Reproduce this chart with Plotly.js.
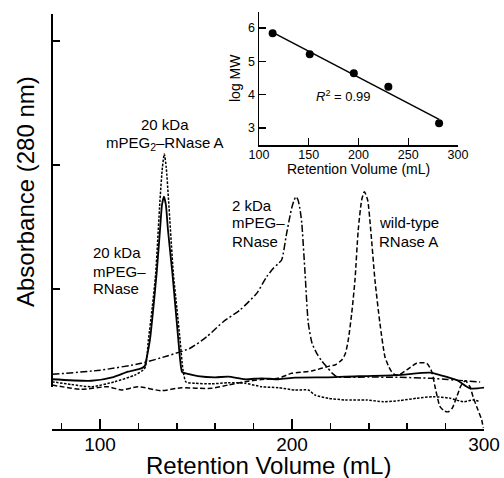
<!DOCTYPE html>
<html>
<head>
<meta charset="utf-8">
<script src="https://cdn.plot.ly/plotly-3.0.1.min.js"></script>
<style>html,body{margin:0;padding:0;background:#fff;}#chart{width:504px;height:478px;}</style>
</head>
<body>
<div id="chart"></div>
<script>
// ---------- main chromatogram data (retention volume mL, absorbance a.u.) ----------
const solidX = [75, 95.5, 107, 114.6, 121.5, 123.4, 124.1, 126.0, 127.8, 129.5, 131.25, 132.3, 133.3, 134.3, 135.4, 137.7, 139.3, 140.8, 141.8, 142.8, 145.8, 151.0, 159.9, 166.8, 175.5, 184.2, 192.9, 201.6, 218.9, 227.6, 254.5, 271.9, 277.1, 285.8, 292.7, 300];
const solidY = [0.272, 0.260, 0.29, 0.333, 0.360, 0.38, 0.427, 0.589, 0.85, 1.127, 1.476, 1.68, 1.744, 1.68, 1.476, 1.127, 0.85, 0.589, 0.42, 0.33, 0.315, 0.298, 0.288, 0.293, 0.272, 0.280, 0.272, 0.285, 0.288, 0.293, 0.306, 0.325, 0.306, 0.266, 0.199, 0.204];

const dotX = [75, 85, 95.5, 107.7, 118.1, 123.3, 125.2, 127.2, 129.0, 131.25, 132.5, 133.5, 134.5, 135.7, 138.2, 140, 141.7, 143.2, 144.8, 149.5, 158, 166.8, 175.5, 184.2, 192.9, 201.6, 208.5, 212, 218.9, 227.6, 238.9, 247.6, 256, 264.9, 273.6, 282.3, 289.2, 294.4, 297.9];
const dotY = [0.252, 0.23, 0.212, 0.252, 0.306, 0.36, 0.589, 0.85, 1.127, 1.718, 1.98, 2.089, 1.98, 1.718, 1.127, 0.85, 0.589, 0.35, 0.25, 0.24, 0.235, 0.244, 0.240, 0.212, 0.204, 0.185, 0.185, 0.145, 0.119, 0.105, 0.105, 0.091, 0.10, 0.119, 0.131, 0.119, 0.091, 0.105, 0.091];

const ddX = [75, 100, 121.5, 135, 146.9, 155.6, 164.2, 172.9, 181.6, 186.8, 190.3, 192.5, 194.6, 197.2, 199.8, 201.2, 202.1, 203.1, 204.1, 205.1, 206.8, 208.5, 210.5, 212.9, 215.5, 218.1, 221, 223.3, 240, 255, 272, 281, 290, 298];
const ddY = [0.312, 0.345, 0.401, 0.46, 0.522, 0.615, 0.736, 0.831, 0.965, 1.099, 1.167, 1.20, 1.234, 1.449, 1.65, 1.72, 1.744, 1.72, 1.65, 1.530, 1.127, 0.723, 0.56, 0.481, 0.42, 0.373, 0.32, 0.293, 0.29, 0.288, 0.28, 0.27, 0.26, 0.25];

const wtX = [75, 90.3, 104.2, 111.1, 119.8, 131.9, 142.3, 151.0, 158.2, 166.8, 175.5, 184, 192.9, 199.8, 210.3, 219.8, 222.4, 225.9, 227.8, 229.3, 231.1, 232.8, 234.5, 236.3, 237.7, 239.4, 241.0, 243.2, 245.8, 248.4, 250.5, 251.9, 253.5, 255.4, 259.7, 264.9, 270.2, 272.8, 274.5, 277.1, 279.5, 281.5, 283.5, 285.8, 288, 290.3, 292.7, 294.5, 296.2, 298.8, 299.6];
const wtY = [0.226, 0.191, 0.212, 0.185, 0.212, 0.180, 0.204, 0.199, 0.199, 0.226, 0.252, 0.27, 0.280, 0.320, 0.339, 0.38, 0.387, 0.427, 0.48, 0.589, 0.804, 1.073, 1.476, 1.718, 1.785, 1.718, 1.476, 1.073, 0.723, 0.454, 0.37, 0.333, 0.31, 0.306, 0.347, 0.401, 0.401, 0.333, 0.212, 0.051, 0.015, 0.01, 0.04, 0.13, 0.22, 0.26, 0.212, 0.12, 0.051, -0.056, -0.121];

// ---------- inset calibration data ----------
const mwX = [113.7, 151, 195.3, 230, 281];
const mwY = [5.84, 5.21, 4.64, 4.24, 3.14];
const fitX = [113.7, 281];
const fitY = [5.87, 3.26];

// ---------- ticks ----------
const mainXTicks = [100, 200, 300];
const mainXTickText = ['100', '200', '300'];
const mainXMinor = [80, 120, 140, 160, 180, 220, 240, 260, 280];
const mainYTicks = [1, 2, 3];
const insetXTicks = [100, 150, 200, 250, 300];
const insetXTickText = ['100', '150', '200', '250', '300'];
const insetYTicks = [3, 4, 5, 6];
const insetYTickText = ['3', '4', '5', '6'];

const FONT = 'Liberation Sans, Arial, Helvetica, sans-serif';
const W = 504, H = 478, ML = 52, MR = 20, MT = 12, MB = 49;
const PW = W - ML - MR, PH = H - MT - MB;
const px2x = p => (p - ML) / PW;
const py2y = p => (H - MB - p) / PH;

const traces = [
  {x: solidX, y: solidY, type: 'scatter', mode: 'lines', line: {color: '#000', width: 1.8, shape: 'spline', smoothing: 0.6}, hoverinfo: 'skip'},
  {x: dotX, y: dotY, type: 'scatter', mode: 'lines', line: {color: '#000', width: 1.5, dash: '2.5px,1.5px', shape: 'spline', smoothing: 0.6}, hoverinfo: 'skip'},
  {x: ddX, y: ddY, type: 'scatter', mode: 'lines', line: {color: '#000', width: 1.5, dash: '7px,2.5px,2px,2.5px', shape: 'spline', smoothing: 0.6}, hoverinfo: 'skip'},
  {x: wtX, y: wtY, type: 'scatter', mode: 'lines', line: {color: '#000', width: 1.5, dash: '5px,2.5px', shape: 'spline', smoothing: 0.6}, hoverinfo: 'skip'},
  {x: fitX, y: fitY, xaxis: 'x2', yaxis: 'y2', type: 'scatter', mode: 'lines', line: {color: '#000', width: 1.5}, hoverinfo: 'skip'},
  {x: mwX, y: mwY, xaxis: 'x2', yaxis: 'y2', type: 'scatter', mode: 'markers', marker: {color: '#000', size: 8}, hoverinfo: 'skip'}
];

function lab(text, px, py, size, anchor) {
  return {text: text, xref: 'paper', yref: 'paper', x: px2x(px), y: py2y(py), xanchor: anchor || 'center', yanchor: 'middle', showarrow: false, font: {family: FONT, size: size, color: '#000'}};
}

const annotations = [
  Object.assign(lab('Absorbance (280 nm)', 25, 192, 24), {textangle: -90}),
  lab('Retention Volume (mL)', 268, 466, 24),
  lab('Retention Volume (mL)', 358, 169, 14),
  Object.assign(lab('log MW', 235, 78, 14), {textangle: -90}),
  lab('<i>R</i><sup>2</sup> = 0.99', 343, 96, 13),
  lab('20 kDa', 165, 125, 15),
  lab('mPEG<sub>2</sub>–RNase A', 165, 143, 15),
  lab('20 kDa', 91, 253, 15, 'left'),
  lab('mPEG–', 91, 271, 15, 'left'),
  lab('RNase', 91, 288, 15, 'left'),
  lab('2 kDa', 230, 205, 15, 'left'),
  lab('mPEG–', 230, 223, 15, 'left'),
  lab('RNase', 230, 241, 15, 'left'),
  lab('wild-type', 377, 222, 15, 'left'),
  lab('RNase A', 377, 241, 15, 'left')
];

const layout = {
  width: W, height: H,
  margin: {l: ML, r: MR, t: MT, b: MB, pad: 0},
  paper_bgcolor: '#fff', plot_bgcolor: 'rgba(0,0,0,0)',
  showlegend: false,
  font: {family: FONT, color: '#000'},
  xaxis: {
    range: [75, 300], tickmode: 'array', tickvals: mainXTicks, ticktext: mainXTickText,
    ticks: 'inside', ticklen: 10, tickwidth: 1.5, tickcolor: '#000', ticklabelstandoff: -3,
    showline: true, linecolor: '#000', linewidth: 2, showgrid: false, zeroline: false,
    tickfont: {family: FONT, size: 19, color: '#000'},
    minor: {tickmode: 'array', tickvals: mainXMinor, ticks: 'inside', ticklen: 6, tickwidth: 1.5, tickcolor: '#000', showgrid: false}
  },
  yaxis: {
    range: [(413 - 429) / 124, (413 - 12) / 124], tickmode: 'array', tickvals: mainYTicks,
    showticklabels: false, ticks: 'inside', ticklen: 8, tickwidth: 1.5, tickcolor: '#000',
    showline: false, showgrid: false, zeroline: false
  },
  xaxis2: {
    domain: [px2x(259), px2x(458)], anchor: 'y2', range: [100, 300],
    tickmode: 'array', tickvals: insetXTicks, ticktext: insetXTickText,
    ticks: 'inside', ticklen: 7, tickwidth: 1.3, tickcolor: '#000', ticklabelstandoff: -3,
    showline: true, linecolor: '#000', linewidth: 1.5, showgrid: false, zeroline: false,
    tickfont: {family: FONT, size: 12.5, color: '#000'}
  },
  yaxis2: {
    domain: [py2y(145), 1], anchor: 'x2', range: [2.49, 6.48],
    tickmode: 'array', tickvals: insetYTicks, ticktext: insetYTickText,
    ticks: 'inside', ticklen: 7, tickwidth: 1.3, tickcolor: '#000',
    showline: true, linecolor: '#000', linewidth: 1.5, showgrid: false, zeroline: false,
    tickfont: {family: FONT, size: 12.5, color: '#000'}
  },
  shapes: [
    {type: 'line', xref: 'paper', yref: 'paper', x0: 0, x1: 0, y0: py2y(387), y1: py2y(14), line: {color: '#000', width: 2}}
  ],
  annotations: annotations
};

Plotly.newPlot('chart', traces, layout, {displayModeBar: false, staticPlot: true});
</script>
</body>
</html>
